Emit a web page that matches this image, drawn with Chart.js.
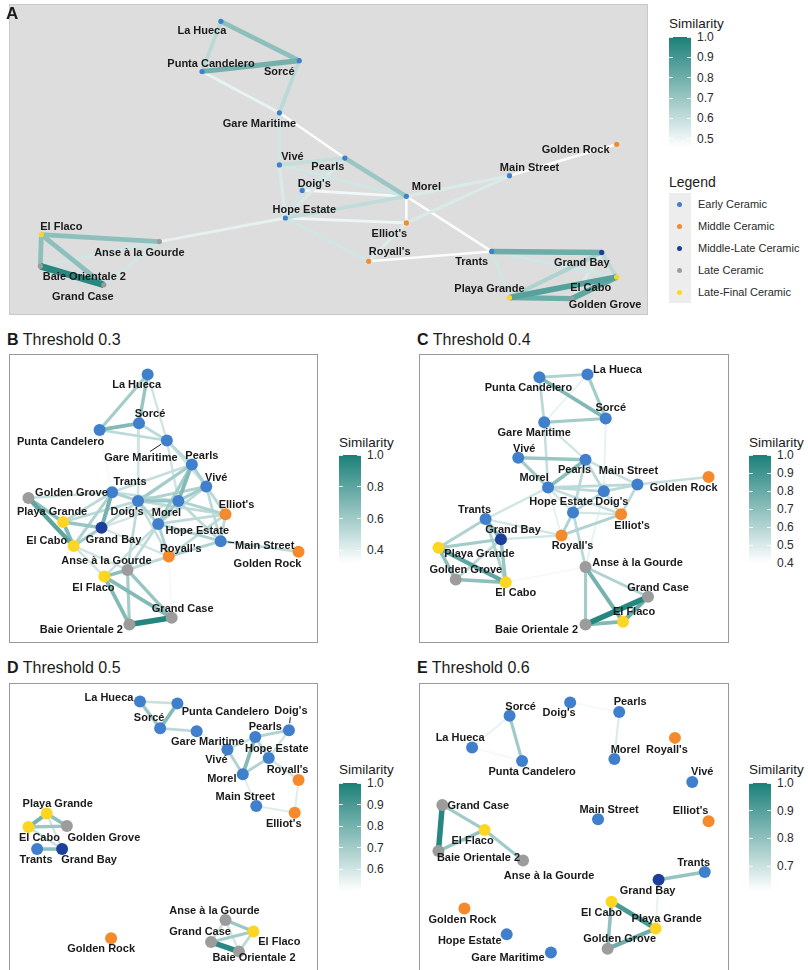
<!DOCTYPE html>
<html><head><meta charset="utf-8">
<script src="https://cdn.jsdelivr.net/npm/chart.js@4.4.1/dist/chart.umd.min.js"></script>
<style>
body{margin:0;width:808px;height:970px;position:relative;background:#fff;font-family:"Liberation Sans",Arial,sans-serif;overflow:hidden;color:#1a1a1a}
.abs{position:absolute;white-space:nowrap}
canvas{position:absolute}
</style></head><body>
<script>
// ---------------- DATA ----------------
const siteNames = ["La Hueca","Punta Candelero","Sorcé","Gare Maritime","Vivé","Pearls","Doig's","Morel","Hope Estate","Elliot's","Royall's","Main Street","Golden Rock","Trants","Grand Bay","El Cabo","Playa Grande","Golden Grove","El Flaco","Anse à la Gourde","Baie Orientale 2","Grand Case"];
const sitePeriods = ["Early Ceramic","Early Ceramic","Early Ceramic","Early Ceramic","Early Ceramic","Early Ceramic","Early Ceramic","Early Ceramic","Early Ceramic","Middle Ceramic","Middle Ceramic","Early Ceramic","Middle Ceramic","Early Ceramic","Middle-Late Ceramic","Late-Final Ceramic","Late-Final Ceramic","Late Ceramic","Late-Final Ceramic","Late Ceramic","Late Ceramic","Late Ceramic"];
const periodNames = ["Early Ceramic","Middle Ceramic","Middle-Late Ceramic","Late Ceramic","Late-Final Ceramic"];

const panelLetters = ["A","B","C","D","E"];
const panelTitles = ["","Threshold 0.3","Threshold 0.4","Threshold 0.5","Threshold 0.6"];
const similarityMin = [0.46, 0.32, 0.40, 0.50, 0.61];
const ticksA = [1.0,0.9,0.8,0.7,0.6,0.5];
const ticksB = [1.0,0.8,0.6,0.4];
const ticksC = [1.0,0.9,0.8,0.7,0.6,0.5,0.4];
const ticksD = [1.0,0.9,0.8,0.7,0.6];
const ticksE = [1.0,0.9,0.8,0.7];

// layout coordinates (site order as siteNames)
const layoutAX = [211,192,290,270,270,336,293,398,276,398,360,502,610,484,595,610,502,565,30,149,29,93];
const layoutAY = [15,66,55,108,161,154,187,193,215,220,259,172,140,249,250,275,296,297,232,239,264,283];
const layoutBX = [138,88,129,158,199,184,128,170,149,219,160,214,295,101,90,61,50,14,93,117,119,163];
const layoutBY = [15,73,66,84,132,109,147,147,171,161,205,189,200,138,175,194,169,144,226,219,276,269];
const layoutCX = [169,119,188,124,97,167,186,128,154,204,142,221,295,63,79,84,14,32,206,167,167,232];
const layoutCY = [15,18,61,65,102,104,137,133,159,161,183,130,122,166,187,232,196,229,273,216,276,247];
const layoutDX = [130,169,151,189,221,250,285,237,264,291,295,251,100,23,49,14,33,54,248,219,233,204];
const layoutDY = [13,15,41,44,63,50,43,89,72,129,95,122,260,167,167,144,130,143,253,241,274,264];
const layoutEX = [49,101,88,131,278,202,151,197,85,295,260,180,41,291,243,194,240,190,62,102,14,18];
const layoutEY = [61,75,28,275,97,24,14,73,256,138,51,136,229,191,199,222,250,271,147,179,169,121];

const edgesA = [
["La Hueca","Sorcé",0.73],["La Hueca","Punta Candelero",0.62],["Punta Candelero","Sorcé",0.79],
["Punta Candelero","Gare Maritime",0.51],["Sorcé","Gare Maritime",0.62],["Gare Maritime","Pearls",0.47],
["Gare Maritime","Vivé",0.57],["Vivé","Pearls",0.60],["Vivé","Morel",0.57],["Vivé","Hope Estate",0.55],
["Pearls","Morel",0.70],["Pearls","Doig's",0.57],["Pearls","Hope Estate",0.55],["Doig's","Morel",0.49],
["Doig's","Hope Estate",0.57],["Hope Estate","Morel",0.61],["Hope Estate","Elliot's",0.50],
["Hope Estate","Royall's",0.57],["Hope Estate","Anse à la Gourde",0.52],["Morel","Elliot's",0.47],
["Morel","Main Street",0.55],["Elliot's","Main Street",0.55],["Elliot's","Royall's",0.54],
["Morel","Trants",0.47],["Royall's","Trants",0.47],["Main Street","Golden Rock",0.47],
["Trants","Grand Bay",0.81],["Trants","El Cabo",0.57],["Trants","Playa Grande",0.57],
["Grand Bay","El Cabo",0.62],["Grand Bay","Playa Grande",0.65],["Grand Bay","Golden Grove",0.55],
["El Cabo","Playa Grande",0.86],["El Cabo","Golden Grove",0.84],["Playa Grande","Golden Grove",0.81],
["El Flaco","Anse à la Gourde",0.73],["El Flaco","Baie Orientale 2",0.73],["El Flaco","Grand Case",0.73],
["Baie Orientale 2","Grand Case",0.97],["Baie Orientale 2","Anse à la Gourde",0.57],["Grand Case","Anse à la Gourde",0.57]
];
const edgesB = [
["La Hueca","Sorcé",0.63],["La Hueca","Punta Candelero",0.59],["La Hueca","Gare Maritime",0.46],
["Sorcé","Punta Candelero",0.69],["Sorcé","Gare Maritime",0.52],["Punta Candelero","Gare Maritime",0.52],
["Sorcé","Doig's",0.46],["Punta Candelero","Trants",0.35],["Gare Maritime","Pearls",0.52],
["Gare Maritime","Morel",0.46],["Gare Maritime","Vivé",0.46],["Pearls","Vivé",0.56],["Pearls","Morel",0.69],
["Pearls","Doig's",0.59],["Pearls","Trants",0.49],["Pearls","Hope Estate",0.59],["Pearls","Elliot's",0.49],
["Pearls","Grand Bay",0.50],["Vivé","Morel",0.59],["Vivé","Elliot's",0.52],["Vivé","Main Street",0.52],
["Vivé","Doig's",0.56],["Vivé","Hope Estate",0.52],["Trants","Grand Bay",0.73],["Trants","Golden Grove",0.49],
["Trants","Playa Grande",0.52],["Trants","El Cabo",0.56],["Trants","Doig's",0.56],["Trants","Morel",0.49],
["Doig's","Morel",0.63],["Doig's","Hope Estate",0.56],["Doig's","Royall's",0.49],["Doig's","Grand Bay",0.49],
["Doig's","Anse à la Gourde",0.52],["Doig's","Elliot's",0.52],["Morel","Hope Estate",0.59],["Morel","Elliot's",0.56],
["Morel","Main Street",0.52],["Hope Estate","Elliot's",0.52],["Hope Estate","Royall's",0.56],
["Hope Estate","Main Street",0.56],["Hope Estate","Anse à la Gourde",0.52],["Hope Estate","El Flaco",0.49],
["Elliot's","Main Street",0.52],["Elliot's","Royall's",0.52],["Royall's","Main Street",0.56],
["Main Street","Golden Rock",0.52],["Royall's","Grand Case",0.35],["Royall's","Anse à la Gourde",0.52],
["Golden Grove","Playa Grande",0.66],["Golden Grove","El Cabo",0.80],["Playa Grande","El Cabo",0.69],
["Playa Grande","Grand Bay",0.63],["El Cabo","Grand Bay",0.59],["Grand Bay","Royall's",0.46],
["Grand Bay","Morel",0.46],["Anse à la Gourde","El Flaco",0.66],["Anse à la Gourde","Grand Case",0.63],
["Anse à la Gourde","Baie Orientale 2",0.59],["El Flaco","Grand Case",0.69],["El Flaco","Baie Orientale 2",0.69],
["Grand Case","Baie Orientale 2",0.97],["El Flaco","Royall's",0.49],["El Cabo","Anse à la Gourde",0.46],
["Playa Grande","Doig's",0.52],["El Cabo","El Flaco",0.46]
];
const edgesC = [
["Punta Candelero","La Hueca",0.61],["Punta Candelero","Sorcé",0.73],["Punta Candelero","Gare Maritime",0.58],
["La Hueca","Sorcé",0.64],["La Hueca","Gare Maritime",0.46],["Sorcé","Gare Maritime",0.64],["Sorcé","Doig's",0.46],
["Gare Maritime","Morel",0.55],["Gare Maritime","Pearls",0.52],["Vivé","Pearls",0.67],["Vivé","Morel",0.64],
["Pearls","Morel",0.70],["Pearls","Doig's",0.58],["Pearls","Hope Estate",0.58],["Pearls","Main Street",0.55],
["Morel","Doig's",0.58],["Morel","Hope Estate",0.52],["Morel","Main Street",0.58],["Morel","Trants",0.52],
["Morel","Royall's",0.46],["Morel","Elliot's",0.55],["Doig's","Hope Estate",0.58],["Doig's","Main Street",0.58],
["Doig's","Elliot's",0.55],["Main Street","Golden Rock",0.55],["Main Street","Elliot's",0.58],
["Hope Estate","Elliot's",0.52],["Hope Estate","Royall's",0.61],["Hope Estate","Anse à la Gourde",0.58],
["Royall's","Elliot's",0.61],["Royall's","Grand Bay",0.52],["Royall's","Trants",0.52],["Doig's","Anse à la Gourde",0.46],
["Trants","Grand Bay",0.73],["Trants","Playa Grande",0.61],["Trants","El Cabo",0.61],["Grand Bay","Playa Grande",0.64],
["Grand Bay","El Cabo",0.67],["Grand Bay","Golden Grove",0.58],["Playa Grande","El Cabo",0.82],
["Playa Grande","Golden Grove",0.70],["Golden Grove","El Cabo",0.70],["El Cabo","Anse à la Gourde",0.43],
["Anse à la Gourde","Baie Orientale 2",0.64],["Anse à la Gourde","El Flaco",0.76],["Anse à la Gourde","Grand Case",0.61],
["Grand Case","El Flaco",0.79],["Grand Case","Baie Orientale 2",0.97],["El Flaco","Baie Orientale 2",0.73]
];
const edgesD = [
["La Hueca","Punta Candelero",0.62],["La Hueca","Sorcé",0.72],["Punta Candelero","Sorcé",0.77],
["Sorcé","Gare Maritime",0.65],["Punta Candelero","Gare Maritime",0.52],["Gare Maritime","Vivé",0.55],
["Pearls","Doig's",0.67],["Pearls","Vivé",0.62],["Pearls","Morel",0.77],["Pearls","Hope Estate",0.65],
["Vivé","Morel",0.67],["Morel","Hope Estate",0.67],["Doig's","Hope Estate",0.60],["Hope Estate","Royall's",0.60],
["Morel","Main Street",0.57],["Main Street","Elliot's",0.57],["Royall's","Elliot's",0.57],
["Playa Grande","El Cabo",0.80],["Playa Grande","Golden Grove",0.75],["El Cabo","Golden Grove",0.72],
["El Cabo","Grand Bay",0.62],["Playa Grande","Grand Bay",0.60],["Trants","Grand Bay",0.75],
["Anse à la Gourde","El Flaco",0.72],["Anse à la Gourde","Grand Case",0.62],["Anse à la Gourde","Baie Orientale 2",0.60],
["Grand Case","El Flaco",0.70],["Grand Case","Baie Orientale 2",0.97],["El Flaco","Baie Orientale 2",0.65]
];
const edgesE = [
["Doig's","Pearls",0.63],["Pearls","Morel",0.67],["Sorcé","La Hueca",0.65],["Sorcé","Punta Candelero",0.77],
["La Hueca","Punta Candelero",0.63],["Grand Case","Baie Orientale 2",0.98],["Grand Case","El Flaco",0.77],
["El Flaco","Anse à la Gourde",0.77],["El Flaco","Baie Orientale 2",0.79],["Trants","Grand Bay",0.79],
["Grand Bay","El Cabo",0.63],["Grand Bay","Playa Grande",0.65],["El Cabo","Playa Grande",0.92],
["El Cabo","Golden Grove",0.80],["Playa Grande","Golden Grove",0.86]
];

// ---------------- STYLE ----------------
const periodColors = {"Early Ceramic":"#3F7FCB","Middle Ceramic":"#F58A2C","Middle-Late Ceramic":"#1B3F9B","Late Ceramic":"#9C9C9C","Late-Final Ceramic":"#FDD624"};
const labelStyle = {
 A:{dx:[-19,9,-20,-20,13,-17,12,20,19,-17,21,20,-41,-20,-20,-26,-20,33,20,-20,44,-21],
    dy:[10,-8,11,11,-8,9,-7,-9,-8,11,-9,-8,6,11,11,11,-9,6,-8,11,11,12], seg:[]},
 B:{dx:[-11,-39,11,-26,10,10,-11,-12,39,11,12,44,-31,18,12,-27,-11,43,-11,-21,-48,11],
    dy:[11,12,-9,17,-9,-9,11,12,7,-9,-8,5,12,-10,12,-5,-10,-5,11,-9,5,-9], seg:["Gare Maritime","Main Street"]},
 C:{dx:[30,-11,5,-10,6,-11,8,-14,-12,11,11,-9,-25,-11,12,10,41,10,11,52,-49,10],
    dy:[-4,11,-10,11,-9,10,11,-10,-10,12,11,-14,11,-9,-9,11,6,-10,-10,-4,5,-9], seg:[]},
 D:{dx:[-31,48,-11,11,-11,10,2,-21,8,-11,-11,-11,-10,-1,27,11,11,37,26,-11,15,-11],
    dy:[-3,9,-10,11,11,-10,-19,5,-9,11,-10,-9,11,11,11,11,-10,12,10,-9,6,-10], seg:["Doig's"]},
 E:{dx:[-12,10,11,-43,10,11,-11,11,-37,-18,-8,11,-2,-11,-11,-10,11,12,-12,26,40,36],
    dy:[-9,11,-9,5,-10,-10,11,-9,7,-10,12,-9,11,-9,11,11,-10,-10,11,15,7,1], seg:[]}
};
const HIGH = [27,128,121];
function simColor(t){ t=Math.max(0,Math.min(1,t)); const c=HIGH.map(v=>Math.round(255+(v-255)*t)); return `rgb(${c[0]},${c[1]},${c[2]})`; }

function addText(txt, left, cy, size, opts={}){
  const d=document.createElement('div'); d.className='abs';
  d.style.left=left+'px'; d.style.top=(cy-size/2)+'px'; d.style.fontSize=size+'px'; d.style.lineHeight=size+'px';
  if(opts.bold) d.style.fontWeight='bold'; if(opts.color) d.style.color=opts.color;
  if(opts.html) d.innerHTML=txt; else d.textContent=txt;
  document.body.appendChild(d); return d;
}

function makePanel(key, box, xs, ys, edges, lo, radius, wBase, wScale, bg){
  const frame=document.createElement('div'); frame.className='abs';
  Object.assign(frame.style,{left:box.l+'px',top:box.t+'px',width:box.w+'px',height:box.h+'px',boxSizing:'border-box',border:'1px solid '+(bg?'#c9c9c9':'#9a9a9a'),background:bg||'#fff'});
  document.body.appendChild(frame);
  const cv=document.createElement('canvas'); cv.width=box.w; cv.height=box.h;
  cv.style.left=box.l+'px'; cv.style.top=box.t+'px'; cv.style.width=box.w+'px'; cv.style.height=box.h+'px';
  document.body.appendChild(cv);
  const idx = n => siteNames.indexOf(n);
  const datasets=[{
    data: xs.map((x,i)=>({x:x,y:ys[i]})),
    pointRadius: radius, pointHoverRadius: radius, pointBorderWidth: 0,
    pointBackgroundColor: sitePeriods.map(p=>periodColors[p]),
    pointBorderColor: sitePeriods.map(p=>periodColors[p]),
    showLine:false, clip:false
  }];
  edges.slice().sort((a,b)=>b[2]-a[2]).forEach(([a,b,w])=>{
    const t=(w-lo)/(1-lo); const ia=idx(a), ib=idx(b);
    datasets.push({data:[{x:xs[ia],y:ys[ia]},{x:xs[ib],y:ys[ib]}], showLine:true, borderColor:simColor(t),
      borderWidth: wBase+wScale*t, pointRadius:0, pointHoverRadius:0, clip:false, borderCapStyle:'butt'});
  });
  const st=labelStyle[key];
  const labelPlugin={id:'nodeLabels'+key, afterDatasetsDraw(chart){
    const ctx=chart.ctx, sx=chart.scales.x, sy=chart.scales.y;
    ctx.save(); ctx.font='bold 11px "Liberation Sans", Arial, sans-serif';
    ctx.textAlign='center'; ctx.textBaseline='middle'; ctx.fillStyle='#1a1a1a';
    siteNames.forEach((name,i)=>{
      const px=sx.getPixelForValue(xs[i]), py=sy.getPixelForValue(ys[i]);
      const lx=px+st.dx[i], ly=py+st.dy[i];
      if(st.seg.includes(name)){
        const hw=ctx.measureText(name).width/2+1, hh=6;
        const vx=px-lx, vy=py-ly; const s=Math.min(hw/Math.abs(vx||1e-6), hh/Math.abs(vy||1e-6));
        const ex=lx+vx*s, ey=ly+vy*s; const len=Math.hypot(px-ex,py-ey);
        const sx0=px-(px-ex)/len*(radius+1), sy0=py-(py-ey)/len*(radius+1);
        ctx.strokeStyle='#1a1a1a'; ctx.lineWidth=1; ctx.beginPath(); ctx.moveTo(sx0,sy0); ctx.lineTo(ex,ey); ctx.stroke();
      }
      ctx.fillText(name,lx,ly);
    });
    ctx.restore();
  }};
  new Chart(cv,{type:'scatter',data:{datasets},
    options:{responsive:false,animation:false,devicePixelRatio:1,events:[],layout:{padding:0},
      plugins:{legend:{display:false},tooltip:{enabled:false}},
      scales:{x:{type:'linear',display:false,min:0,max:box.w},y:{type:'linear',display:false,min:0,max:box.h,reverse:true}}},
    plugins:[labelPlugin]});
}

function makeColorbar(l,t,w,h,lo,ticks,titleCy){
  addText('Similarity', l, titleCy, 13.5);
  const bar=document.createElement('div'); bar.className='abs';
  Object.assign(bar.style,{left:l+'px',top:t+'px',width:w+'px',height:h+'px',background:`linear-gradient(to top, ${simColor(0)}, ${simColor(1)})`});
  document.body.appendChild(bar);
  ticks.forEach(v=>{
    const y=t+(1-v)/(1-lo)*h;
    [0,w-4].forEach(x0=>{const tk=document.createElement('div'); tk.className='abs';
      Object.assign(tk.style,{left:(l+x0)+'px',top:(y-0.5)+'px',width:'4px',height:'1px',background:'rgba(255,255,255,0.85)'});
      document.body.appendChild(tk);});
    addText(v.toFixed(1), l+w+6, y, 12, {color:'#2a2a2a'});
  });
}

// Panel A
makePanel('A',{l:9,t:4,w:639,h:311},layoutAX,layoutAY,edgesA,similarityMin[0],2.6,2.5,4.5,'#DCDDDC');
addText(panelLetters[0],6,13,17,{bold:true});
makeColorbar(669,37,22,110,similarityMin[0],ticksA,24);
addText('Legend',669,182,14);
const key=document.createElement('div'); key.className='abs';
Object.assign(key.style,{left:'669px',top:'193px',width:'22px',height:'110px',background:'#EDEDED'});
document.body.appendChild(key);
periodNames.forEach((p,k)=>{
  const cy=204+22*k;
  const dot=document.createElement('div'); dot.className='abs';
  Object.assign(dot.style,{left:'677px',top:(cy-2.5)+'px',width:'5px',height:'5px',borderRadius:'50%',background:periodColors[p]});
  document.body.appendChild(dot);
  addText(p,698,cy,11,{color:'#2a2a2a'});
});

// Panels B-E
const boxes={B:{l:9,t:354,w:309,h:289},C:{l:419,t:354,w:310,h:289},D:{l:9,t:683,w:309,h:289},E:{l:419,t:683,w:310,h:289}};
makePanel('B',boxes.B,layoutBX,layoutBY,edgesB,similarityMin[1],6,1.5,4.2);
makePanel('C',boxes.C,layoutCX,layoutCY,edgesC,similarityMin[2],6,1.5,4.2);
makePanel('D',boxes.D,layoutDX,layoutDY,edgesD,similarityMin[3],6,1.5,4.2);
makePanel('E',boxes.E,layoutEX,layoutEY,edgesE,similarityMin[4],6,1.5,4.2);
[['B',7,340],['C',417,340],['D',7,668],['E',417,668]].forEach(([k,l,cy],i)=>{
  addText('<b>'+panelLetters[i+1]+'</b> '+panelTitles[i+1], l, cy, 16, {html:true});
});
makeColorbar(339,455,22,108,similarityMin[1],ticksB,443);
makeColorbar(749,455,22,108,similarityMin[2],ticksC,443);
makeColorbar(339,783,22,108,similarityMin[3],ticksD,770);
makeColorbar(749,783,22,108,similarityMin[4],ticksE,770);
</script>
</body></html>
